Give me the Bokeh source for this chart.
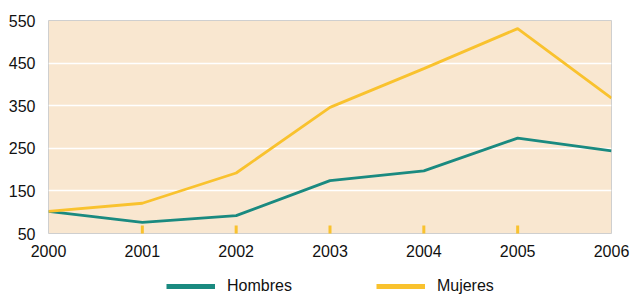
from bokeh.plotting import figure
from bokeh.layouts import column
from bokeh.models import Legend, LegendItem, FixedTicker, Range1d
from bokeh.embed import file_html
from bokeh.resources import INLINE

years = [2000, 2001, 2002, 2003, 2004, 2005, 2006]
hombres = [102, 76, 92, 174, 197, 274, 244]
mujeres = [102, 121, 192, 346, 437, 531, 368]
y_ticks = [50, 150, 250, 350, 450, 550]
series_names = ["Hombres", "Mujeres"]

TEAL = "#1a8a80"
YELLOW = "#f9c22e"
FONT = "Liberation Sans"
FS = "16px"

p = figure(width=636, height=262, output_backend="svg", toolbar_location=None,
           x_range=Range1d(years[0], years[-1]), y_range=Range1d(y_ticks[0], y_ticks[-1]),
           min_border_left=48, min_border_right=25, min_border_top=20, min_border_bottom=29)
p.background_fill_color = "#f9e7d0"
p.border_fill_color = "white"
p.outline_line_color = "#cfcfcf"
p.outline_line_width = 1

p.xgrid.grid_line_color = None
p.ygrid.grid_line_color = "white"
p.ygrid.grid_line_width = 1.5
p.yaxis.ticker = FixedTicker(ticks=y_ticks)
p.xaxis.ticker = FixedTicker(ticks=years)
for ax in (p.xaxis[0], p.yaxis[0]):
    ax.axis_line_color = None
    ax.major_tick_line_color = None
    ax.minor_tick_line_color = None
    ax.major_label_text_font = FONT
    ax.major_label_text_font_size = FS
    ax.major_label_text_color = "#111111"
p.yaxis.major_label_standoff = 7
p.xaxis.major_label_standoff = 5

# yellow tick marks inside the bottom edge
p.rect(x=years[1:-1], y=[y_ticks[0]] * (len(years) - 2), width=3, height=16,
       width_units="screen", height_units="screen", color=YELLOW, line_color=None)

p.line(years, hombres, line_color=TEAL, line_width=2.8)
p.line(years, mujeres, line_color=YELLOW, line_width=2.8)

# legend strip below the chart (legend-only renderers lie outside its view)
L = figure(width=636, height=33, output_backend="svg", toolbar_location=None,
           min_border_left=0, min_border_right=0, min_border_top=0, min_border_bottom=0,
           x_range=Range1d(0, 1), y_range=Range1d(0, 1))
L.xaxis.visible = False
L.yaxis.visible = False
L.grid.visible = False
L.outline_line_color = None
l1 = L.line(x=[5, 6], y=[5, 6], line_color=TEAL, line_width=5)
l2 = L.line(x=[5, 6], y=[5, 6], line_color=YELLOW, line_width=5)
legend = Legend(items=[LegendItem(label=series_names[0], renderers=[l1]),
                       LegendItem(label=series_names[1], renderers=[l2])],
                orientation="horizontal", location=(118, 0),
                glyph_width=49, glyph_height=14, label_height=14, label_standoff=12, spacing=84,
                padding=0, margin=0, border_line_color=None, background_fill_alpha=0,
                label_text_font=FONT, label_text_font_size=FS, label_text_color="#111111")
L.add_layout(legend, "center")

open("out.html", "w").write(file_html(column(p, L, spacing=0), INLINE))
